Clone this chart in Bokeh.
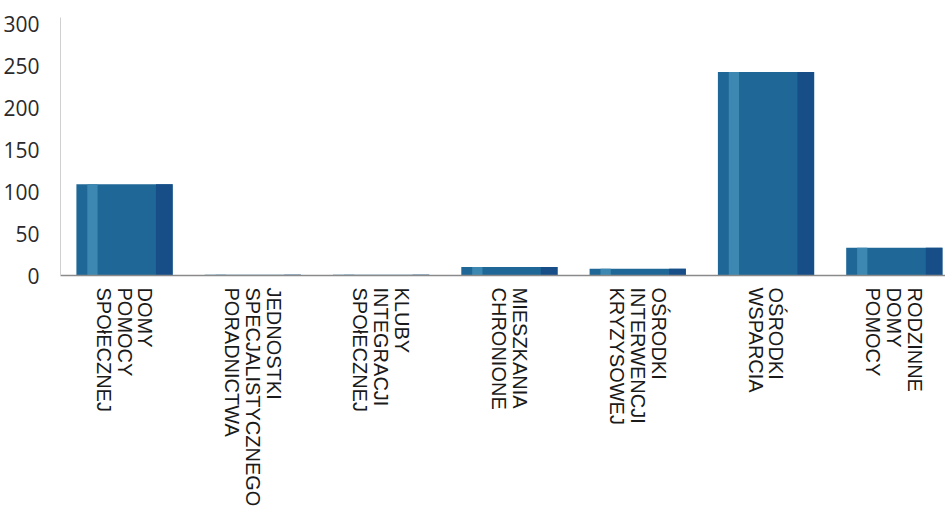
import math
from bokeh.plotting import figure
from bokeh.models import Range1d, FixedTicker, ColumnDataSource
from bokeh.transform import dodge
from bokeh.embed import file_html
from bokeh.resources import INLINE

categories = [
    "DOMY\nPOMOCY\nSPOłECZNEJ",
    "JEDNOSTKI\nSPECJALISTYCZNEGO\nPORADNICTWA",
    "KLUBY\nINTEGRACJI\nSPOłECZNEJ",
    "MIESZKANIA\nCHRONIONE",
    "OŚRODKI\nINTERWENCJI\nKRYZYSOWEJ",
    "OŚRODKI\nWSPARCIA",
    "RODZINNE\nDOMY\nPOMOCY",
]
values = [109, 1, 1, 10, 8, 243, 33]
y_ticks = [0, 50, 100, 150, 200, 250, 300]

xs = list(range(len(categories)))
src = ColumnDataSource(dict(x=xs, top=values))

p = figure(width=945, height=513, output_backend="svg", toolbar_location=None,
           x_range=Range1d(-0.499, 6.399), y_range=Range1d(0, 308),
           min_border_left=60, min_border_right=0, min_border_top=17, min_border_bottom=238)
p.outline_line_color = None
p.grid.visible = False

p.vbar(x="x", top="top", width=0.75, bottom=0, source=src, fill_color="#1e6797", line_color=None)
p.vbar(x=dodge("x", -0.25, range=p.x_range), top="top", width=0.08, bottom=0, source=src,
       fill_color="#3d88b2", line_color=None)
p.vbar(x=dodge("x", 0.31, range=p.x_range), top="top", width=0.13, bottom=0, source=src,
       fill_color="#174e88", line_color=None)

p.xaxis.ticker = FixedTicker(ticks=xs)
p.xaxis.major_label_overrides = {i: c for i, c in enumerate(categories)}
p.xaxis.major_label_orientation = -math.pi / 2
p.xaxis.major_tick_line_color = None
p.xaxis.minor_tick_line_color = None
p.xaxis.axis_line_color = "#8a8a8a"
p.xaxis.axis_line_width = 1.5
p.xaxis.major_label_text_font = "Liberation Sans"
p.xaxis.major_label_text_font_size = "20px"
p.xaxis.major_label_text_line_height = 0.95
p.xaxis.major_label_text_color = "#1a1a1a"
p.xaxis.major_label_standoff = 6

p.yaxis.ticker = FixedTicker(ticks=y_ticks)
p.yaxis.major_tick_line_color = None
p.yaxis.minor_tick_line_color = None
p.yaxis.axis_line_color = "#d0d0d0"
p.yaxis.major_label_text_font = "Open Sans"
p.yaxis.major_label_text_font_size = "21px"
p.yaxis.major_label_text_color = "#2a2a2a"
p.yaxis.major_label_standoff = 15

open("out.html", "w").write(file_html(p, INLINE))
